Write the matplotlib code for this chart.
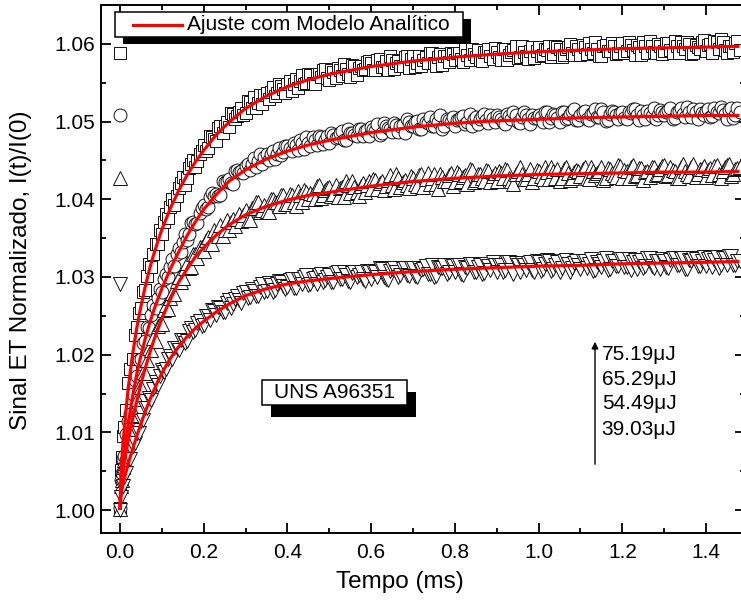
import numpy as np
import matplotlib
matplotlib.use("Agg")
import matplotlib.pyplot as plt
from matplotlib.patches import Rectangle, FancyArrowPatch
from matplotlib.lines import Line2D
from matplotlib.ticker import MultipleLocator, FormatStrFormatter

plt.rcParams['font.family'] = ['Liberation Sans', 'DejaVu Sans']

# ---------------- data ----------------
t_early = [0.0, 0.0025, 0.005, 0.0075,
           0.01, 0.015, 0.02, 0.025, 0.03, 0.035, 0.04, 0.045, 0.05,
           0.055, 0.06, 0.065, 0.07, 0.075, 0.08, 0.085, 0.09, 0.095]
t_late = np.round(np.arange(0.10, 1.485, 0.01), 2)      # 0.10 ... 1.48
t_mid = np.round(np.arange(0.105, 1.48, 0.01), 3)       # 0.105 ... 1.475
t_a = np.concatenate([t_early, t_late])

sq_a = [
    1.0003, 1.0052, 1.0068, 1.0095,
    1.0107, 1.0129, 1.0164, 1.0182, 1.0195, 1.0225, 1.0235, 1.0254, 1.0260,
    1.0281, 1.0283, 1.0301, 1.0317, 1.0313, 1.0330, 1.0342, 1.0342, 1.0360,
    1.0356, 1.0381, 1.0390, 1.0393, 1.0415, 1.0429, 1.0428, 1.0445, 1.0442, 1.0459,
    1.0470, 1.0466, 1.0480, 1.0475, 1.0494, 1.0495, 1.0493, 1.0510, 1.0507, 1.0517,
    1.0511, 1.0525, 1.0532, 1.0524, 1.0523, 1.0537, 1.0538, 1.0533, 1.0548, 1.0542,
    1.0548, 1.0539, 1.0555, 1.0552, 1.0549, 1.0561, 1.0550, 1.0561, 1.0557, 1.0568,
    1.0554, 1.0564, 1.0569, 1.0559, 1.0568, 1.0558, 1.0572, 1.0569, 1.0566, 1.0577,
    1.0575, 1.0566, 1.0581, 1.0571, 1.0567, 1.0580, 1.0576, 1.0572, 1.0583, 1.0569,
    1.0584, 1.0575, 1.0572, 1.0583, 1.0589, 1.0575, 1.0583, 1.0573, 1.0585, 1.0589,
    1.0579, 1.0588, 1.0577, 1.0586, 1.0593, 1.0583, 1.0579, 1.0590, 1.0593, 1.0581,
    1.0590, 1.0579, 1.0593, 1.0586, 1.0592, 1.0582, 1.0597, 1.0585, 1.0591, 1.0582,
    1.0596, 1.0586, 1.0592, 1.0583, 1.0598, 1.0594, 1.0586, 1.0596, 1.0589, 1.0598,
    1.0586, 1.0596, 1.0601, 1.0589, 1.0593, 1.0585, 1.0599, 1.0591, 1.0598, 1.0588,
    1.0601, 1.0591, 1.0599, 1.0586, 1.0596, 1.0603, 1.0589, 1.0598, 1.0588, 1.0597,
    1.0591, 1.0601, 1.0588, 1.0598, 1.0603, 1.0593, 1.0600, 1.0589, 1.0596, 1.0602,
    1.0591, 1.0600, 1.0604, 1.0593, 1.0602, 1.0589, 1.0598, 1.0601, 1.0592]
sq_b = [
    1.0371, 1.0376, 1.0401, 1.0404, 1.0421, 1.0418, 1.0440, 1.0450, 1.0449, 1.0462,
    1.0462, 1.0482, 1.0478, 1.0492, 1.0485, 1.0500, 1.0511, 1.0503, 1.0513, 1.0509,
    1.0526, 1.0518, 1.0518, 1.0534, 1.0534, 1.0529, 1.0545, 1.0537, 1.0546, 1.0537,
    1.0552, 1.0549, 1.0543, 1.0560, 1.0550, 1.0560, 1.0548, 1.0561, 1.0567, 1.0556,
    1.0567, 1.0556, 1.0566, 1.0574, 1.0562, 1.0573, 1.0560, 1.0572, 1.0568, 1.0578,
    1.0566, 1.0580, 1.0570, 1.0578, 1.0584, 1.0568, 1.0578, 1.0572, 1.0585, 1.0581,
    1.0571, 1.0584, 1.0580, 1.0576, 1.0588, 1.0572, 1.0587, 1.0584, 1.0577, 1.0587,
    1.0589, 1.0581, 1.0593, 1.0579, 1.0587, 1.0592, 1.0578, 1.0590, 1.0584, 1.0595,
    1.0583, 1.0594, 1.0580, 1.0590, 1.0597, 1.0583, 1.0590, 1.0581, 1.0596, 1.0591,
    1.0584, 1.0594, 1.0598, 1.0587, 1.0596, 1.0583, 1.0593, 1.0600, 1.0586, 1.0594,
    1.0599, 1.0587, 1.0594, 1.0602, 1.0585, 1.0597, 1.0591, 1.0601, 1.0587, 1.0598,
    1.0589, 1.0602, 1.0592, 1.0599, 1.0586, 1.0597, 1.0604, 1.0590, 1.0600, 1.0587,
    1.0601, 1.0592, 1.0604, 1.0589, 1.0597, 1.0602, 1.0587, 1.0599, 1.0593, 1.0605,
    1.0599, 1.0589, 1.0602, 1.0606, 1.0592, 1.0598, 1.0590, 1.0604]

ci_a = [
    1.0002, 1.0038, 1.0047, 1.0066,
    1.0070, 1.0098, 1.0114, 1.0123, 1.0150, 1.0168, 1.0173, 1.0193, 1.0195,
    1.0215, 1.0217, 1.0236, 1.0234, 1.0251, 1.0264, 1.0260, 1.0273, 1.0284,
    1.0281, 1.0304, 1.0313, 1.0314, 1.0337, 1.0345, 1.0348, 1.0370, 1.0368, 1.0383,
    1.0393, 1.0390, 1.0408, 1.0407, 1.0406, 1.0422, 1.0426, 1.0420, 1.0438, 1.0437,
    1.0443, 1.0438, 1.0453, 1.0449, 1.0445, 1.0459, 1.0458, 1.0452, 1.0466, 1.0461,
    1.0469, 1.0462, 1.0470, 1.0476, 1.0465, 1.0473, 1.0480, 1.0470, 1.0480, 1.0477,
    1.0473, 1.0483, 1.0480, 1.0488, 1.0476, 1.0486, 1.0483, 1.0491, 1.0482, 1.0489,
    1.0493, 1.0488, 1.0483, 1.0498, 1.0492, 1.0487, 1.0496, 1.0495, 1.0486, 1.0500,
    1.0495, 1.0501, 1.0490, 1.0499, 1.0506, 1.0494, 1.0500, 1.0491, 1.0504, 1.0500,
    1.0495, 1.0504, 1.0507, 1.0500, 1.0495, 1.0506, 1.0503, 1.0510, 1.0498, 1.0505,
    1.0509, 1.0503, 1.0497, 1.0507, 1.0512, 1.0500, 1.0506, 1.0509, 1.0497, 1.0505,
    1.0509, 1.0500, 1.0512, 1.0505, 1.0508, 1.0499, 1.0512, 1.0505, 1.0514, 1.0502,
    1.0509, 1.0514, 1.0502, 1.0511, 1.0506, 1.0516, 1.0501, 1.0510, 1.0513, 1.0504,
    1.0513, 1.0504, 1.0511, 1.0516, 1.0502, 1.0509, 1.0514, 1.0507, 1.0503, 1.0515,
    1.0509, 1.0515, 1.0503, 1.0513, 1.0518, 1.0506, 1.0512, 1.0516, 1.0504, 1.0511,
    1.0514, 1.0506, 1.0517, 1.0511, 1.0515, 1.0504, 1.0518, 1.0509, 1.0513]
ci_b = [
    1.0297, 1.0300, 1.0323, 1.0329, 1.0332, 1.0356, 1.0356, 1.0371, 1.0370, 1.0389,
    1.0388, 1.0403, 1.0404, 1.0404, 1.0423, 1.0423, 1.0421, 1.0436, 1.0435, 1.0434,
    1.0446, 1.0445, 1.0442, 1.0458, 1.0455, 1.0450, 1.0462, 1.0458, 1.0457, 1.0469,
    1.0466, 1.0473, 1.0464, 1.0473, 1.0480, 1.0469, 1.0477, 1.0481, 1.0471, 1.0482,
    1.0485, 1.0479, 1.0485, 1.0477, 1.0490, 1.0486, 1.0481, 1.0491, 1.0488, 1.0482,
    1.0490, 1.0497, 1.0486, 1.0495, 1.0490, 1.0498, 1.0487, 1.0496, 1.0503, 1.0495,
    1.0499, 1.0491, 1.0503, 1.0498, 1.0494, 1.0503, 1.0508, 1.0495, 1.0502, 1.0506,
    1.0502, 1.0506, 1.0497, 1.0510, 1.0504, 1.0497, 1.0507, 1.0502, 1.0509, 1.0500,
    1.0506, 1.0499, 1.0510, 1.0504, 1.0508, 1.0498, 1.0512, 1.0503, 1.0508, 1.0505,
    1.0506, 1.0513, 1.0500, 1.0510, 1.0505, 1.0513, 1.0503, 1.0510, 1.0516, 1.0502,
    1.0513, 1.0503, 1.0510, 1.0516, 1.0506, 1.0512, 1.0502, 1.0514, 1.0509, 1.0511,
    1.0505, 1.0512, 1.0516, 1.0509, 1.0514, 1.0503, 1.0511, 1.0517, 1.0508, 1.0513,
    1.0512, 1.0517, 1.0505, 1.0514, 1.0510, 1.0519, 1.0506, 1.0513, 1.0516, 1.0509,
    1.0516, 1.0507, 1.0513, 1.0519, 1.0510, 1.0515, 1.0505, 1.0517]

up_a = [
    1.0001, 1.0031, 1.0038, 1.0055,
    1.0064, 1.0073, 1.0096, 1.0101, 1.0121, 1.0122, 1.0143, 1.0158, 1.0158,
    1.0178, 1.0177, 1.0193, 1.0208, 1.0206, 1.0221, 1.0218, 1.0237, 1.0240,
    1.0240, 1.0264, 1.0273, 1.0278, 1.0300, 1.0299, 1.0318, 1.0313, 1.0329, 1.0338,
    1.0334, 1.0351, 1.0343, 1.0357, 1.0367, 1.0360, 1.0360, 1.0375, 1.0375, 1.0372,
    1.0386, 1.0374, 1.0389, 1.0396, 1.0386, 1.0385, 1.0400, 1.0397, 1.0391, 1.0406,
    1.0394, 1.0406, 1.0392, 1.0406, 1.0412, 1.0401, 1.0407, 1.0417, 1.0402, 1.0412,
    1.0416, 1.0407, 1.0403, 1.0416, 1.0423, 1.0408, 1.0416, 1.0404, 1.0421, 1.0419,
    1.0413, 1.0425, 1.0421, 1.0412, 1.0425, 1.0418, 1.0432, 1.0416, 1.0425, 1.0414,
    1.0428, 1.0417, 1.0433, 1.0426, 1.0420, 1.0432, 1.0413, 1.0429, 1.0423, 1.0434,
    1.0422, 1.0433, 1.0429, 1.0420, 1.0438, 1.0425, 1.0433, 1.0423, 1.0437, 1.0430,
    1.0423, 1.0434, 1.0439, 1.0428, 1.0420, 1.0437, 1.0432, 1.0426, 1.0439, 1.0428,
    1.0437, 1.0426, 1.0435, 1.0442, 1.0428, 1.0423, 1.0439, 1.0434, 1.0427, 1.0438,
    1.0430, 1.0441, 1.0426, 1.0437, 1.0434, 1.0442, 1.0428, 1.0439, 1.0431, 1.0444,
    1.0428, 1.0437, 1.0442, 1.0430, 1.0440, 1.0425, 1.0436, 1.0441, 1.0431, 1.0439,
    1.0444, 1.0431, 1.0438, 1.0428, 1.0441, 1.0436, 1.0430, 1.0445, 1.0433, 1.0439,
    1.0429, 1.0440, 1.0443, 1.0432, 1.0437, 1.0444, 1.0430, 1.0439, 1.0442]
up_b = [
    1.0258, 1.0259, 1.0280, 1.0295, 1.0294, 1.0312, 1.0312, 1.0330, 1.0324, 1.0338,
    1.0347, 1.0342, 1.0360, 1.0353, 1.0353, 1.0374, 1.0371, 1.0366, 1.0381, 1.0380,
    1.0374, 1.0389, 1.0396, 1.0384, 1.0393, 1.0384, 1.0400, 1.0397, 1.0406, 1.0394,
    1.0407, 1.0397, 1.0411, 1.0396, 1.0410, 1.0408, 1.0401, 1.0419, 1.0405, 1.0415,
    1.0404, 1.0419, 1.0414, 1.0403, 1.0419, 1.0424, 1.0410, 1.0417, 1.0409, 1.0423,
    1.0426, 1.0413, 1.0423, 1.0417, 1.0431, 1.0413, 1.0427, 1.0422, 1.0418, 1.0430,
    1.0420, 1.0431, 1.0416, 1.0434, 1.0427, 1.0420, 1.0433, 1.0424, 1.0431, 1.0417,
    1.0435, 1.0423, 1.0431, 1.0439, 1.0422, 1.0433, 1.0427, 1.0438, 1.0422, 1.0434,
    1.0436, 1.0427, 1.0438, 1.0423, 1.0433, 1.0441, 1.0426, 1.0433, 1.0422, 1.0438,
    1.0430, 1.0441, 1.0426, 1.0436, 1.0439, 1.0428, 1.0442, 1.0425, 1.0435, 1.0437,
    1.0439, 1.0428, 1.0442, 1.0431, 1.0437, 1.0425, 1.0440, 1.0434, 1.0429, 1.0443,
    1.0438, 1.0427, 1.0444, 1.0431, 1.0440, 1.0435, 1.0429, 1.0442, 1.0432, 1.0443,
    1.0430, 1.0442, 1.0437, 1.0427, 1.0445, 1.0432, 1.0441, 1.0429, 1.0439, 1.0443,
    1.0438, 1.0431, 1.0444, 1.0428, 1.0441, 1.0446, 1.0433, 1.0440]

dn_a = [
    1.0000, 1.0017, 1.0030, 1.0031,
    1.0043, 1.0048, 1.0064, 1.0066, 1.0083, 1.0086, 1.0099, 1.0099, 1.0114,
    1.0116, 1.0131, 1.0131, 1.0144, 1.0142, 1.0156, 1.0165, 1.0161, 1.0173,
    1.0180, 1.0181, 1.0198, 1.0209, 1.0206, 1.0219, 1.0217, 1.0234, 1.0232, 1.0243,
    1.0238, 1.0250, 1.0257, 1.0251, 1.0260, 1.0255, 1.0270, 1.0265, 1.0275, 1.0267,
    1.0281, 1.0274, 1.0282, 1.0276, 1.0291, 1.0282, 1.0290, 1.0283, 1.0295, 1.0288,
    1.0287, 1.0298, 1.0286, 1.0297, 1.0300, 1.0290, 1.0298, 1.0291, 1.0304, 1.0296,
    1.0302, 1.0293, 1.0306, 1.0297, 1.0302, 1.0294, 1.0306, 1.0303, 1.0297, 1.0308,
    1.0297, 1.0306, 1.0312, 1.0300, 1.0296, 1.0310, 1.0306, 1.0302, 1.0312, 1.0301,
    1.0311, 1.0300, 1.0309, 1.0314, 1.0304, 1.0300, 1.0313, 1.0312, 1.0304, 1.0316,
    1.0307, 1.0315, 1.0302, 1.0312, 1.0317, 1.0306, 1.0315, 1.0305, 1.0314, 1.0319,
    1.0306, 1.0316, 1.0309, 1.0319, 1.0304, 1.0315, 1.0318, 1.0309, 1.0319, 1.0306,
    1.0319, 1.0310, 1.0322, 1.0308, 1.0316, 1.0306, 1.0320, 1.0317, 1.0311, 1.0321,
    1.0310, 1.0321, 1.0317, 1.0308, 1.0319, 1.0313, 1.0324, 1.0310, 1.0321, 1.0314,
    1.0323, 1.0313, 1.0309, 1.0322, 1.0319, 1.0311, 1.0324, 1.0314, 1.0321, 1.0310,
    1.0321, 1.0312, 1.0325, 1.0316, 1.0323, 1.0310, 1.0322, 1.0324, 1.0314, 1.0320,
    1.0314, 1.0325, 1.0322, 1.0312, 1.0324, 1.0316, 1.0327, 1.0315, 1.0321]
dn_b = [
    1.0178, 1.0195, 1.0195, 1.0209, 1.0219, 1.0215, 1.0230, 1.0229, 1.0241, 1.0237,
    1.0250, 1.0245, 1.0256, 1.0262, 1.0255, 1.0267, 1.0260, 1.0272, 1.0270, 1.0280,
    1.0273, 1.0285, 1.0276, 1.0287, 1.0281, 1.0292, 1.0281, 1.0291, 1.0294, 1.0285,
    1.0296, 1.0286, 1.0297, 1.0291, 1.0302, 1.0291, 1.0299, 1.0303, 1.0294, 1.0300,
    1.0294, 1.0305, 1.0297, 1.0307, 1.0295, 1.0305, 1.0300, 1.0307, 1.0295, 1.0306,
    1.0308, 1.0300, 1.0310, 1.0297, 1.0308, 1.0312, 1.0300, 1.0310, 1.0303, 1.0312,
    1.0301, 1.0312, 1.0310, 1.0304, 1.0315, 1.0301, 1.0312, 1.0315, 1.0306, 1.0314,
    1.0315, 1.0304, 1.0313, 1.0317, 1.0306, 1.0313, 1.0304, 1.0317, 1.0309, 1.0315,
    1.0316, 1.0307, 1.0319, 1.0309, 1.0318, 1.0306, 1.0315, 1.0318, 1.0309, 1.0321,
    1.0308, 1.0317, 1.0321, 1.0310, 1.0319, 1.0312, 1.0322, 1.0307, 1.0318, 1.0315,
    1.0321, 1.0312, 1.0323, 1.0309, 1.0317, 1.0321, 1.0309, 1.0320, 1.0314, 1.0323,
    1.0313, 1.0323, 1.0319, 1.0310, 1.0322, 1.0314, 1.0325, 1.0312, 1.0320, 1.0323,
    1.0313, 1.0322, 1.0325, 1.0315, 1.0324, 1.0310, 1.0320, 1.0323, 1.0314, 1.0326,
    1.0323, 1.0313, 1.0326, 1.0316, 1.0324, 1.0327, 1.0315, 1.0321]

# fitted model curves
t_fit = [0.0, 0.0025, 0.005, 0.0075, 0.01, 0.015, 0.02, 0.03, 0.04, 0.05,
         0.06, 0.07, 0.08, 0.09, 0.10, 0.12, 0.14, 0.16, 0.18, 0.20,
         0.23, 0.26, 0.30, 0.35, 0.40, 0.45, 0.50, 0.6, 0.7, 0.8,
         0.9, 1.0, 1.1, 1.2, 1.3, 1.4, 1.48]
sq_fit = [1.0000, 1.0048, 1.0070, 1.0088, 1.0103, 1.0132, 1.0158, 1.0200, 1.0234, 1.0262,
          1.0287, 1.0309, 1.0328, 1.0345, 1.0361, 1.0388, 1.0411, 1.0431, 1.0448, 1.0463,
          1.0483, 1.0499, 1.0517, 1.0533, 1.0545, 1.0554, 1.0561, 1.0571, 1.0578, 1.0583,
          1.0587, 1.0590, 1.0592, 1.0594, 1.0595, 1.0596, 1.0597]
ci_fit = [1.0000, 1.0035, 1.0050, 1.0062, 1.0073, 1.0093, 1.0112, 1.0146, 1.0175, 1.0199,
          1.0220, 1.0239, 1.0256, 1.0271, 1.0285, 1.0310, 1.0332, 1.0353, 1.0371, 1.0387,
          1.0406, 1.0423, 1.0438, 1.0452, 1.0462, 1.0470, 1.0476, 1.0486, 1.0493, 1.0498,
          1.0501, 1.0503, 1.0505, 1.0506, 1.0507, 1.0508, 1.0508]
up_fit = [1.0000, 1.0028, 1.0041, 1.0051, 1.0060, 1.0076, 1.0090, 1.0116, 1.0140, 1.0162,
          1.0182, 1.0200, 1.0217, 1.0232, 1.0246, 1.0271, 1.0293, 1.0310, 1.0326, 1.0338,
          1.0354, 1.0367, 1.0380, 1.0391, 1.0399, 1.0405, 1.0409, 1.0417, 1.0423, 1.0427,
          1.0430, 1.0432, 1.0433, 1.0434, 1.0435, 1.0435, 1.0436]
dn_fit = [1.0000, 1.0019, 1.0027, 1.0034, 1.0040, 1.0050, 1.0060, 1.0078, 1.0095, 1.0111,
          1.0126, 1.0140, 1.0153, 1.0165, 1.0176, 1.0195, 1.0210, 1.0223, 1.0234, 1.0243,
          1.0255, 1.0265, 1.0276, 1.0285, 1.0291, 1.0295, 1.0298, 1.0303, 1.0307, 1.0310,
          1.0312, 1.0314, 1.0315, 1.0317, 1.0318, 1.0319, 1.0320]

# isolated symbol key near t = 0
key_y = [1.0588, 1.0509, 1.0428, 1.0291]

energies = ["75.19\u03bcJ", "65.29\u03bcJ", "54.49\u03bcJ", "39.03\u03bcJ"]
legend_label = "Ajuste com Modelo Analítico"
sample_label = "UNS A96351"

# ---------------- figure ----------------
W, H = 741, 607
fig = plt.figure(figsize=(W / 100, H / 100), dpi=100)

def fx(p):
    return p / W

def fy(p):
    return 1 - p / H

L, R, T, B = 101, 745, 4.5, 533
ax = fig.add_axes([fx(L), fy(B), (R - L) / W, (B - T) / H])
ax.set_xlim((L - 120) / 418.6, (R - 120) / 418.6)
ax.set_ylim(1 - (B - 510) / 7767, 1.06 + (44 - T) / 7767)

def merged(a, b):
    na = min(len(t_a), len(a))
    nb = min(len(t_mid), len(b))
    tt = np.concatenate([t_a[:na], t_mid[:nb]])
    yy = np.concatenate([np.asarray(a[:na]), np.asarray(b[:nb])])
    order = np.argsort(tt, kind='stable')
    return tt[order], yy[order]

mk = dict(linestyle='none', markerfacecolor='white', markeredgecolor='#111111',
          markeredgewidth=0.7)
series = [(sq_a, sq_b, 's', 8.4), (ci_a, ci_b, 'o', 9.3),
          (up_a, up_b, '^', 10.0), (dn_a, dn_b, 'v', 10.0)]
for a, b, m, ms in series:
    tt, yy = merged(a, b)
    ax.plot(tt, yy, marker=m, markersize=ms, **mk, zorder=2)

for fit in (sq_fit, ci_fit, up_fit, dn_fit):
    ax.plot(t_fit, fit, color='#ff0000', lw=2.3, zorder=3, solid_capstyle='butt')

for yk, m, ms in zip(key_y, ['s', 'o', '^', 'v'], [8.4, 9.3, 10.0, 10.0]):
    ax.plot([0.0], [yk], marker=m, markersize=ms, **mk, zorder=4, clip_on=False)

ax.xaxis.set_major_locator(MultipleLocator(0.2))
ax.xaxis.set_minor_locator(MultipleLocator(0.1))
ax.yaxis.set_major_locator(MultipleLocator(0.01))
ax.yaxis.set_minor_locator(MultipleLocator(0.005))
ax.xaxis.set_major_formatter(FormatStrFormatter('%.1f'))
ax.yaxis.set_major_formatter(FormatStrFormatter('%.2f'))
ax.tick_params(which='both', direction='in', top=True, right=True, width=1.3, color='black')
ax.tick_params(which='major', length=7, labelsize=15)
ax.tick_params(which='minor', length=3.5)
ax.tick_params(axis='x', which='major', pad=7)
ax.tick_params(axis='y', which='major', pad=4)
for s in ax.spines.values():
    s.set_linewidth(1.4)

ax.set_xlabel("Tempo (ms)", fontsize=17.5)
ax.set_ylabel("Sinal ET Normalizado, I(t)/I(0)", fontsize=17.5)
ax.xaxis.set_label_coords((400 - L) / (R - L), (B - 582) / (B - T))
ax.yaxis.set_label_coords((21 - L) / (R - L), (B - 270) / (B - T))
ax.xaxis.label.set_va('center')
ax.yaxis.label.set_va('center')

# boxes with solid shadow
def shadow_box(x0, y0, x1, y1, dx, dy):
    fig.add_artist(Rectangle((fx(x0 + dx), fy(y1 + dy)), (x1 - x0) / W, (y1 - y0) / H,
                             transform=fig.transFigure, facecolor='black',
                             edgecolor='none', zorder=10))
    fig.add_artist(Rectangle((fx(x0), fy(y1)), (x1 - x0) / W, (y1 - y0) / H,
                             transform=fig.transFigure, facecolor='white',
                             edgecolor='black', lw=1.1, zorder=11))

shadow_box(115, 11.7, 463, 36.7, 7.7, 7.3)
fig.add_artist(Line2D([fx(133), fx(182)], [fy(24.5), fy(24.5)], color='#ff0000', lw=2.3,
                      transform=fig.transFigure, zorder=12))
fig.text(fx(187), fy(24.5), legend_label, fontsize=15, va='center', ha='left', zorder=12)

shadow_box(261.7, 380, 406.7, 405, 9, 11.7)
fig.text(fx(334), fy(392.5), sample_label, fontsize=15, va='center', ha='center', zorder=12)

# energy labels and arrow
for lab, yp in zip(energies, [355, 379.3, 403.3, 429.3]):
    fig.text(fx(601.7), fy(yp), lab, fontsize=15, va='center', ha='left')
fig.add_artist(FancyArrowPatch((fx(595), fy(467)), (fx(595), fy(339)),
               transform=fig.transFigure, arrowstyle='-|>', mutation_scale=10,
               lw=1.0, color='black'))

fig.savefig("out.png", dpi=100)
